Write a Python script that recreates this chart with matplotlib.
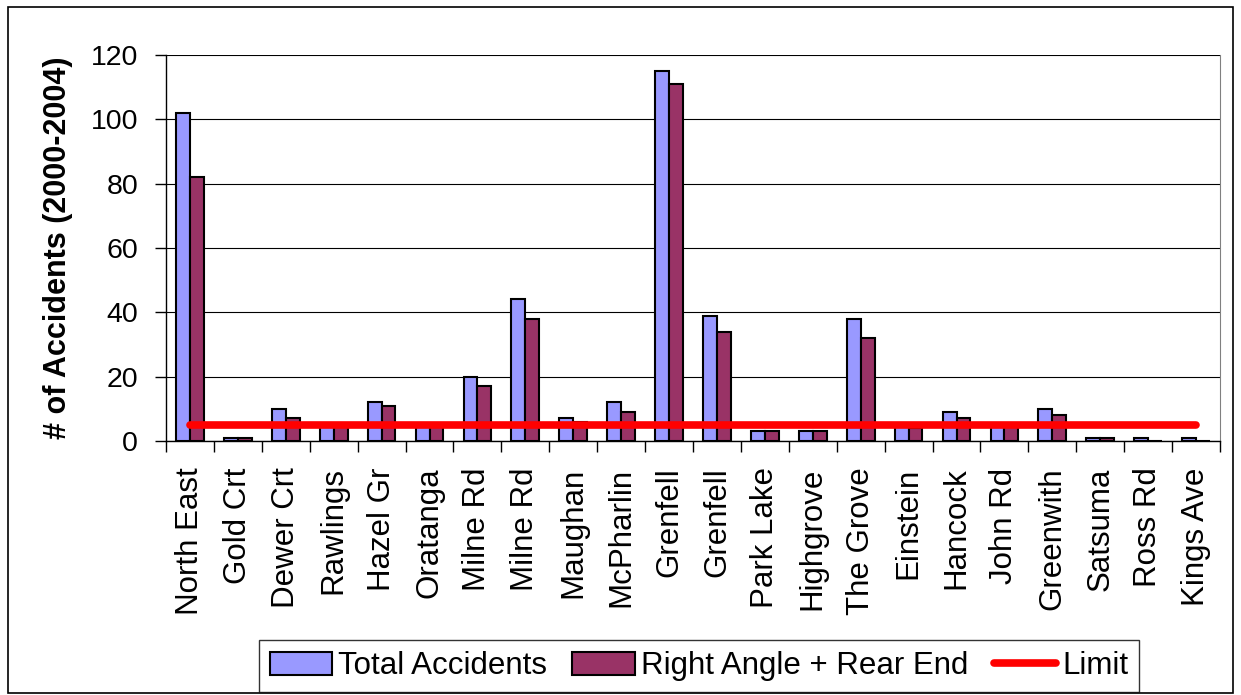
import numpy as np
import matplotlib.pyplot as plt
from matplotlib.patches import Rectangle

plt.rcParams['font.family'] = ['Liberation Sans', 'DejaVu Sans']

streets = ['North East', 'Gold Crt', 'Dewer Crt', 'Rawlings', 'Hazel Gr', 'Oratanga',
           'Milne Rd', 'Milne Rd', 'Maughan', 'McPharlin', 'Grenfell', 'Grenfell',
           'Park Lake', 'Highgrove', 'The Grove', 'Einstein', 'Hancock', 'John Rd',
           'Greenwith', 'Satsuma', 'Ross Rd', 'Kings Ave']
total = [102, 1, 10, 5, 12, 5, 20, 44, 7, 12, 115, 39, 3, 3, 38, 5, 9, 5, 10, 1, 1, 1]
right_rear = [82, 1, 7, 5, 11, 5, 17, 38, 6, 9, 111, 34, 3, 3, 32, 4, 7, 5, 8, 1, 0, 0]
limit = 5

fig = plt.figure(figsize=(12.41, 6.95), dpi=100)
fig.patches.append(Rectangle((8 / 1241, 2 / 695), 1225 / 1241, 686 / 695, transform=fig.transFigure,
                             fill=False, edgecolor='black', linewidth=1.2))
ax = fig.add_axes([166 / 1241, 1 - 441 / 695, (1220 - 166) / 1241, (441 - 55) / 695])

x = np.arange(len(streets))
w = 0.29
b1 = ax.bar(x - w / 2, total, w, color='#9999FF', edgecolor='black', linewidth=1.5,
            label='Total Accidents', zorder=3)
b2 = ax.bar(x + w / 2, right_rear, w, color='#993366', edgecolor='black', linewidth=1.5,
            label='Right Angle + Rear End', zorder=3)
ln, = ax.plot([x[0], x[-1]], [limit, limit], color='red', linewidth=5.5, solid_capstyle='round',
              label='Limit', zorder=4)

ax.set_xlim(-0.5, len(streets) - 0.5)
ax.set_ylim(0, 120)
ax.set_yticks(range(0, 121, 20))
ax.tick_params(axis='y', labelsize=20.5, direction='out', length=8, width=1, pad=12)
ax.yaxis.grid(True, color='black', linewidth=0.8, zorder=0)

ax.set_xticks(x)
ax.set_xticklabels(streets, rotation=90, fontsize=22.5)
ax.tick_params(axis='x', length=0, pad=19)
ax.set_xticks(np.arange(-0.5, len(streets), 1), minor=True)
ax.tick_params(axis='x', which='minor', length=8, width=1, direction='out')

ax.spines['top'].set_visible(False)
ax.spines['right'].set_color('#808080')
ax.spines['left'].set_linewidth(1)
ax.spines['bottom'].set_linewidth(1)

ax.set_ylabel('# of Accidents (2000-2004)', fontsize=22, fontweight='bold')
ax.yaxis.set_label_coords(-0.088, 0.5)

leg = fig.legend([b1, b2, ln], ['Total Accidents', 'Right Angle + Rear End', 'Limit'],
                 loc='lower center', bbox_to_anchor=(699 / 1241, 3 / 695), ncol=3, fontsize=22.5,
                 frameon=True, fancybox=False, edgecolor='black', handlelength=2.0,
                 handleheight=0.75, handletextpad=0.2, columnspacing=0.8, borderpad=0.35,
                 borderaxespad=0)
leg.get_frame().set_linewidth(1)

fig.savefig('out.png', dpi=100)
